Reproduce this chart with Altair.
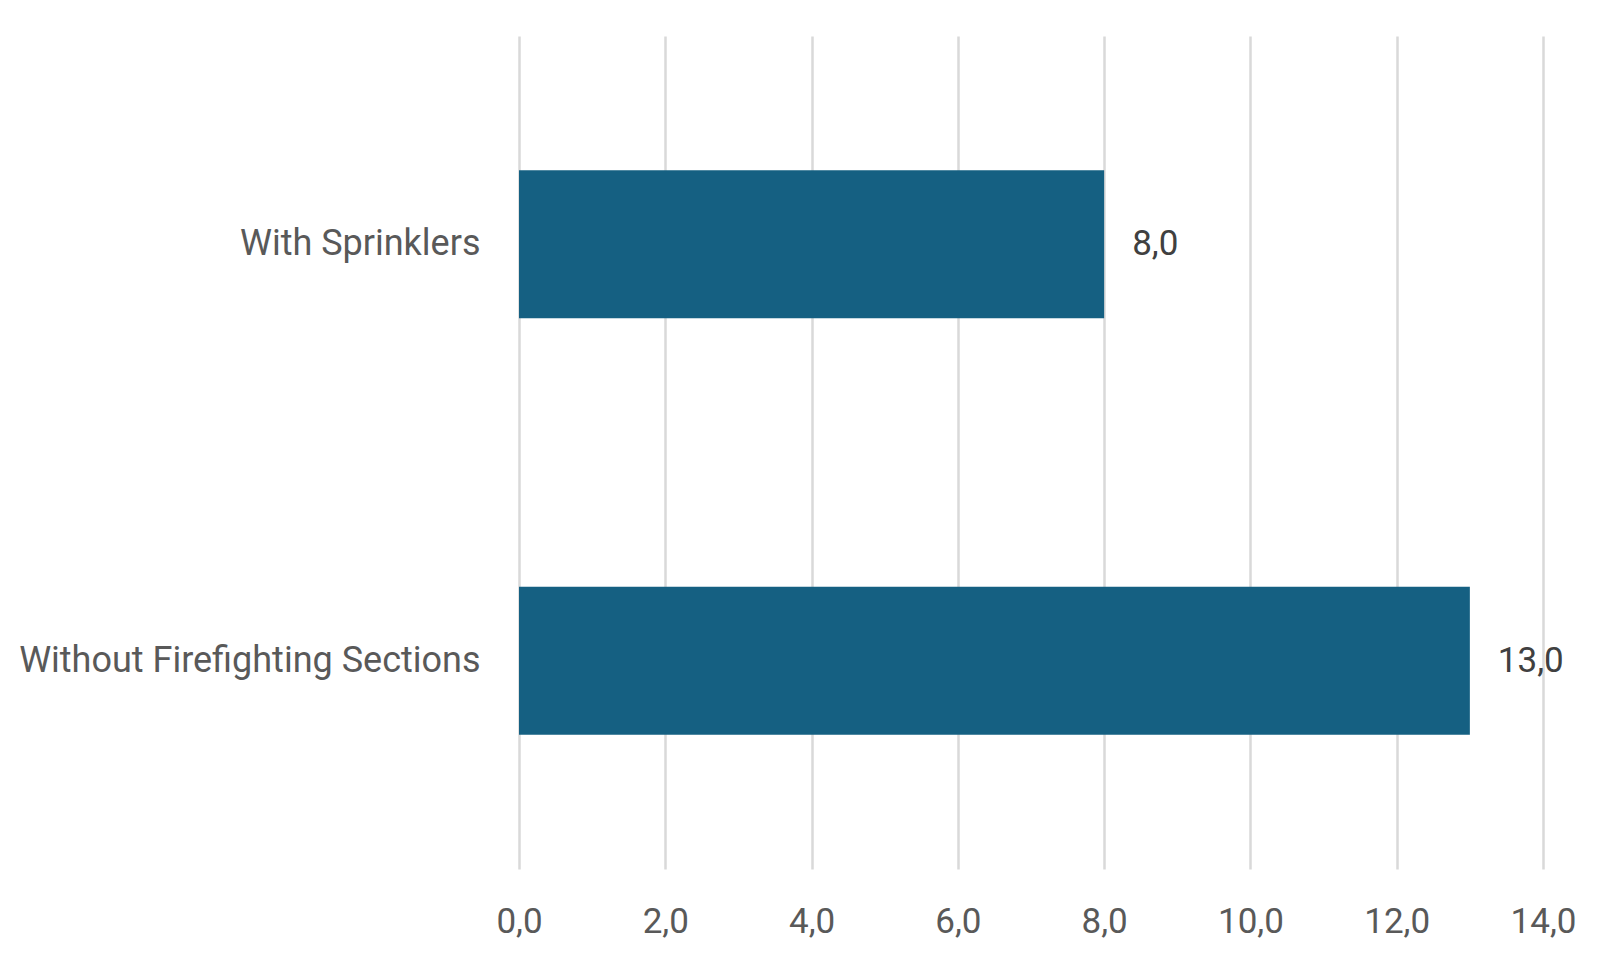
import altair as alt
import pandas as pd

categories = ["With Sprinklers", "Without Firefighting Sections"]
values = [8.0, 13.0]

df = pd.DataFrame({"category": categories, "value": values})

FONT = "Roboto"

y_enc = alt.Y(
    "category:N",
    sort=categories,
    scale=alt.Scale(paddingInner=0.645, paddingOuter=0.3225),
    axis=alt.Axis(
        title=None, domain=False, ticks=False, labelPadding=39, labelLimit=0,
        labelFontSize=36, labelColor="#595959", labelFont=FONT, grid=False,
    ),
)
x_enc = alt.X(
    "value:Q",
    scale=alt.Scale(domain=[0, 14], nice=False),
    axis=alt.Axis(
        title=None, domain=False, ticks=False, values=[0, 2, 4, 6, 8, 10, 12, 14],
        labelExpr="replace(format(datum.value, '.1f'), '.', ',')",
        labelFontSize=35, labelColor="#595959", labelFont=FONT, labelPadding=35,
        grid=True, gridColor="#d9d9d9", gridWidth=2.5, labelFlush=False,
    ),
)

base = alt.Chart(df)
bars = base.mark_bar(color="#156082").encode(x=x_enc, y=y_enc)
texts = base.mark_text(
    align="left", baseline="middle", dx=28, fontSize=35, color="#404040", font=FONT
).transform_calculate(
    label="replace(format(datum.value, '.1f'), '.', ',')"
).encode(x="value:Q", y=alt.Y("category:N", sort=categories), text="label:N")

chart = (bars + texts).properties(
    width=1024, height=833,
    background="white",
    autosize=alt.AutoSizeParams(type="none"),
    padding={"left": 511, "top": 28, "right": 60, "bottom": 80},
).configure_view(stroke=None, strokeWidth=0)

chart.save("out.html", embed_options={"renderer": "svg", "actions": False})
